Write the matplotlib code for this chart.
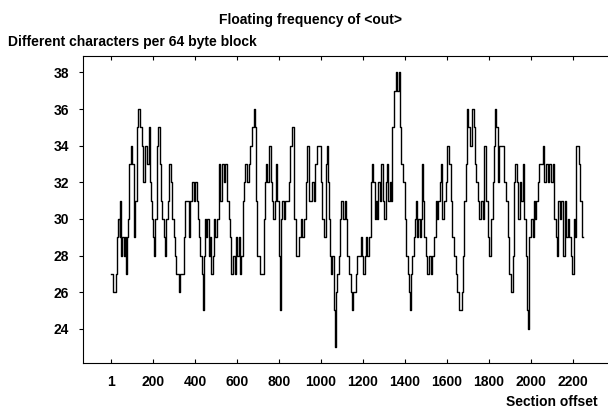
import matplotlib
matplotlib.use("Agg")
import matplotlib.pyplot as plt

plt.rcParams['font.family'] = ['Liberation Sans', 'DejaVu Sans']
plt.rcParams['font.weight'] = 'bold'

# data: section offset -> different characters per 64 byte block
offsets = [1, 9, 25, 28, 31, 36, 41, 44, 47, 52, 60, 68, 73, 76, 80, 84, 88, 95, 101,
           108, 112, 117, 123, 131, 139, 147, 152, 155, 163, 171, 179, 184, 190, 195,
           200, 205, 211, 219, 224, 232, 238, 244, 251, 259, 263, 271, 278, 286, 292,
           298, 306, 311, 322, 330, 346, 354, 370, 375, 386, 394,
           402, 410, 415, 421, 426, 434, 439, 443, 447, 453, 459, 466, 474, 478, 485,
           489, 497, 505, 513, 521, 529, 537, 545, 553, 561, 569, 574, 580, 590, 596,
           602, 609, 617, 621, 628, 634, 640, 648, 656, 664, 672, 680, 685, 690, 695,
           712, 728, 733, 739, 745, 752, 760, 768, 774, 780, 787, 793, 799, 803, 809,
           815, 823, 831, 847,
           855, 863, 871, 874, 879, 895, 903, 911, 919, 927, 935, 942, 958, 966, 974,
           982, 998, 1006, 1014, 1022, 1027, 1033, 1038, 1043, 1049, 1055, 1062, 1066,
           1071, 1078, 1086, 1090, 1097, 1106, 1113, 1119, 1125, 1133, 1141, 1149, 1154,
           1167, 1173, 1189, 1197, 1202, 1208, 1214, 1221, 1229, 1237, 1245, 1249, 1256,
           1262, 1268, 1273, 1281, 1287, 1294, 1300,
           1308, 1316, 1321, 1327, 1333, 1340, 1348, 1356, 1364, 1372, 1376, 1383, 1391,
           1400, 1407, 1413, 1419, 1424, 1429, 1435, 1442, 1448, 1454, 1459, 1464, 1470,
           1477, 1481, 1486, 1492, 1499, 1507, 1515, 1523, 1531, 1539, 1547, 1554, 1559,
           1566, 1572, 1578, 1586, 1594, 1602, 1610, 1618, 1626, 1634, 1642, 1650, 1658,
           1671, 1677, 1683, 1690, 1694, 1702, 1709, 1721, 1728, 1734, 1740, 1747, 1753,
           1762, 1770, 1775, 1778, 1786, 1794, 1802, 1810, 1818, 1826, 1830, 1835, 1842,
           1849, 1873, 1881, 1889, 1897, 1905, 1913, 1921, 1926, 1934, 1940, 1946, 1953,
           1961, 1969, 1977, 1981, 1985, 1993, 2001, 2008, 2013, 2020, 2026, 2032, 2040,
           2058, 2064, 2072, 2080, 2088, 2096, 2104, 2112, 2120, 2125, 2131, 2137, 2144,
           2152, 2160, 2167, 2175, 2183, 2191, 2196, 2204, 2210, 2217, 2231, 2236, 2242,
           2247]
values = [27, 26, 27, 28, 29, 30, 29, 31, 28, 29, 28, 29, 27, 29, 30, 32, 33, 34, 33,
          32, 29, 31, 35, 36, 35, 34, 33, 32, 34, 33, 35, 32, 31, 30,
          29, 28, 30, 34, 35, 33, 31, 30, 29, 28, 30, 31, 33, 32, 30,
          29, 28, 27, 26, 27, 29, 31, 29, 31, 32, 31,
          32, 31, 30, 29, 28, 27, 25, 28, 30, 29, 30, 28, 29, 27, 28,
          30, 29, 30, 33, 31, 33, 32, 33, 31, 30, 29, 27, 28, 27, 29,
          28, 29, 27, 28, 31, 32, 33, 32, 33, 34, 35, 36, 35, 31, 28,
          27, 30, 32, 33, 32, 34, 32, 31, 30, 31, 33, 31, 28, 25, 30,
          31, 30, 31, 32,
          34, 35, 32, 30, 28, 29, 30, 29, 30, 32, 34, 31, 32, 31, 33,
          34, 32, 30, 29, 33, 34, 32, 30, 28, 27, 28, 25, 23,
          26, 27, 28, 30, 31, 30, 31, 30, 28, 27, 26, 25, 26,
          27, 28, 29, 28, 27, 28, 29, 28, 29, 32, 33, 32, 30,
          31, 30, 32, 31, 33, 31, 30,
          32, 33, 31, 32, 31, 35, 37, 38, 37, 38, 35, 33, 32,
          30, 28, 27, 26, 25, 27, 28, 29, 30, 31, 29, 30, 29,
          30, 33, 31, 29, 28, 27, 28, 27, 28, 29, 31, 30, 31,
          32, 33, 30, 31, 32, 34, 33, 31, 29, 28, 27, 26, 25,
          26, 28, 31, 33, 36, 35, 34, 36, 35, 33, 32, 31, 30,
          31, 30, 33, 34, 31, 29, 28, 30, 32, 34, 36, 35, 32,
          34, 32, 31, 29, 27, 26, 28, 32, 33, 32, 30, 32, 31,
          33, 30, 28, 25, 24, 29, 30, 29, 31, 30, 31, 32, 33,
          34, 32, 33, 32, 33, 32, 33, 30, 29, 28, 31, 30, 31,
          28, 31, 29, 30, 29, 28, 27, 30, 29, 34, 33, 31, 29,
          29]

xticks = [1, 200, 400, 600, 800, 1000, 1200, 1400, 1600, 1800, 2000, 2200]
yticks = [24, 26, 28, 30, 32, 34, 36, 38]

fig = plt.figure(figsize=(6.08, 4.11), dpi=100)
ax = fig.add_axes([0.1365, 0.1168, 0.8635, 0.7469])

ax.plot(offsets, values, drawstyle='steps-post', color='black', lw=1.0)

ax.set_xlim(-133, 2367)
ax.set_ylim(22.13, 38.9)
ax.set_xticks(xticks)
ax.set_yticks(yticks)
ax.tick_params(axis='x', direction='in', length=3, width=0.8, top=True, pad=9,
               labelsize=10)
ax.tick_params(axis='y', direction='out', length=3, width=0.8, pad=7, labelsize=10)
ax.tick_params(axis='y', which='both', right=True)
for lab in ax.get_xticklabels() + ax.get_yticklabels():
    lab.set_fontweight('bold')
ax.spines['right'].set_visible(False)
for s in ['left', 'bottom', 'top']:
    ax.spines[s].set_linewidth(0.8)

fig.text(0.51, 1 - 20 / 411, 'Floating frequency of <out>', ha='center', va='center',
         fontsize=10, fontweight='bold')
fig.text(8 / 608, 1 - 42 / 411, 'Different characters per 64 byte block', ha='left',
         va='center', fontsize=10, fontweight='bold')
fig.text(598 / 608, 1 - 402 / 411, 'Section offset', ha='right', va='center',
         fontsize=10, fontweight='bold')

fig.savefig('out.png', dpi=100)
